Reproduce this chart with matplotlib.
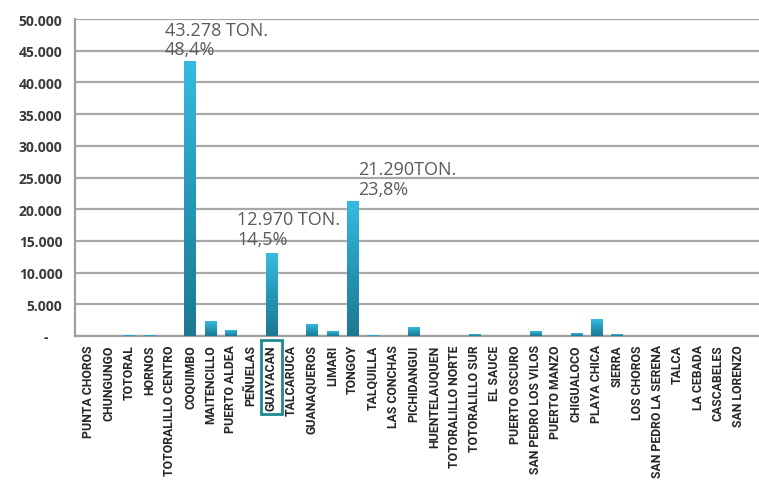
import numpy as np
import matplotlib
matplotlib.use("Agg")
import matplotlib.pyplot as plt
from matplotlib.colors import LinearSegmentedColormap

# caletas / desembarque (ton)
caletas = ["PUNTA CHOROS", "CHUNGUNGO", "TOTORAL", "HORNOS", "TOTORALILLO CENTRO",
           "COQUIMBO", "MAITENCILLO", "PUERTO ALDEA", "PEÑUELAS", "GUAYACAN",
           "TALCARUCA", "GUANAQUEROS", "LIMARI", "TONGOY", "TALQUILLA",
           "LAS CONCHAS", "PICHIDANGUI", "HUENTELAUQUEN", "TOTORALILLO NORTE",
           "TOTORALILLO SUR", "EL SAUCE", "PUERTO OSCURO", "SAN PEDRO LOS VILOS",
           "PUERTO MANZO", "CHIGUALOCO", "PLAYA CHICA", "SIERRA", "LOS CHOROS",
           "SAN PEDRO LA SERENA", "TALCA", "LA CEBADA", "CASCABELES", "SAN LORENZO"]
toneladas = [0, 0, 150, 150, 0,
             43278, 2300, 850, 0, 12970,
             0, 1750, 650, 21290, 150,
             0, 1350, 0, 0,
             250, 0, 0, 650,
             0, 450, 2550, 200, 0,
             0, 0, 0, 0, 0]
yticks = [0, 5000, 10000, 15000, 20000, 25000, 30000, 35000, 40000, 45000, 50000]
ytick_labels = ["-\u00a0\u00a0\u00a0\u00a0", "5.000", "10.000", "15.000", "20.000",
                "25.000", "30.000", "35.000", "40.000", "45.000", "50.000"]
notas = {"COQUIMBO": "43.278 TON.\n48,4%",
         "GUAYACAN": "12.970 TON.\n14,5%",
         "TONGOY": "21.290TON.\n23,8%"}
destacada = "GUAYACAN"

fig = plt.figure(figsize=(7.59, 4.81), dpi=100)
ax = fig.add_axes([75 / 759, 1 - 337 / 481, 1 - 75 / 759, (337 - 20) / 481])

x = np.arange(len(caletas))
bars = ax.bar(x, toneladas, width=0.55, color="#2AA3C6", zorder=3)

# degradado en cada barra
cmap = LinearSegmentedColormap.from_list("bar", ["#1C7892", "#2598B8", "#36BBE0"])
grad = np.linspace(0, 1, 256).reshape(-1, 1)
for b in bars:
    h = b.get_height()
    if h <= 0:
        continue
    ax.imshow(grad, cmap=cmap, aspect="auto", origin="lower", zorder=4,
              extent=[b.get_x(), b.get_x() + b.get_width(), 0, h])

ax.set_xlim(-0.66, 33.0)
ax.set_ylim(0, 50000)

ax.set_yticks(yticks)
ax.set_yticklabels(ytick_labels, fontsize=10, fontweight="bold",
                   family="Open Sans", color="#3a3a3a")
ax.set_xticks(x)
ax.set_xticklabels(caletas, rotation=90, fontsize=8.8, fontweight="bold",
                   family="Roboto", color="#262626")
ax.tick_params(axis="both", length=0)
ax.tick_params(axis="x", pad=6)
ax.tick_params(axis="y", pad=9)

ax.yaxis.grid(True, color="#a8a8a8", linewidth=1.6, zorder=0)
ax.set_axisbelow(True)
for s in ["top", "right"]:
    ax.spines[s].set_visible(False)
for s in ["left", "bottom"]:
    ax.spines[s].set_color("#a0a0a0")
    ax.spines[s].set_linewidth(1.6)

# etiquetas de texto
pos = {"COQUIMBO": (3.77, 49700), "GUAYACAN": (7.31, 19800), "TONGOY": (13.27, 27700)}
for nombre, txt in notas.items():
    px, py = pos[nombre]
    ax.text(px, py, txt, ha="left", va="top", fontsize=13, color="#5a5a5a",
            family="Open Sans", linespacing=1.1, zorder=6, clip_on=False)

lbl = ax.get_xticklabels()[caletas.index(destacada)]
lbl.set_bbox(dict(boxstyle="square,pad=0.35", fc="none", ec="#1f8a8f", lw=2))

fig.savefig("out.png", dpi=100)
